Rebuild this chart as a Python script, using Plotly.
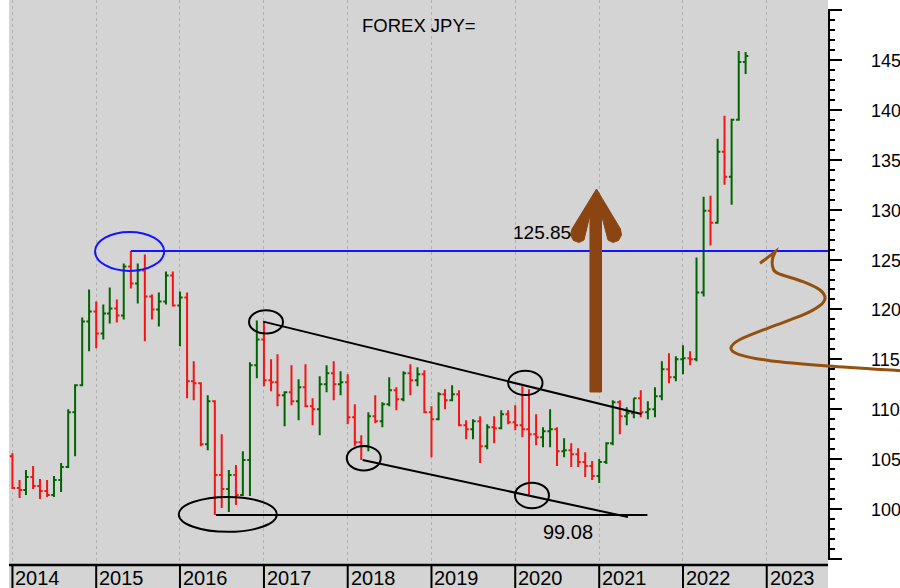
import pandas as pd
import plotly.graph_objects as go

# ---------------- data (monthly OHLC, Jan 2014 - Oct 2022) ----------------
months = pd.date_range("2014-01-01", periods=106, freq="MS")

opens = [
    105.3, 102.1, 101.9, 103.2, 102.3, 101.8, 101.4, 102.9, 104.2, 109.7, 112.4, 118.8,
    119.8, 117.6, 119.6, 120.1, 119.4, 124.3, 122.6, 123.9, 121.3, 120.0, 120.8, 123.4,
    120.4, 121.2, 112.8, 112.6, 106.5, 110.8, 103.4, 102.0, 103.4, 101.4, 104.9, 114.4,
    117.0, 112.9, 112.7, 111.4, 111.7, 110.8, 112.2, 110.3, 110.0, 112.5, 113.6, 112.5,
    112.7, 109.2, 106.7, 106.3, 109.3, 108.8, 110.5, 111.9, 111.0, 113.6, 112.9, 113.5,
    109.7, 109.0, 111.5, 110.9, 111.5, 108.4, 108.0, 108.8, 106.3, 108.2, 108.1, 109.5,
    108.7, 108.4, 108.0, 107.5, 107.2, 107.8, 108.0, 105.8, 105.9, 105.5, 104.7, 104.3,
    103.3, 104.7, 106.6, 110.7, 109.3, 109.6, 111.1, 109.7, 110.0, 111.3, 114.0, 113.2,
    115.0, 115.1, 115.0, 121.7, 129.9, 128.7, 135.8, 133.3, 139.0, 144.8]
highs = [
    105.6, 102.9, 103.9, 104.3, 103.0, 102.9, 103.3, 104.6, 110.0, 112.5, 119.2, 122.0,
    120.8, 120.5, 122.2, 121.0, 124.6, 125.85, 124.6, 125.5, 121.5, 121.7, 123.8, 123.8,
    121.8, 121.7, 114.8, 112.7, 111.4, 110.9, 107.5, 103.9, 104.4, 105.8, 114.7, 118.9,
    118.8, 115.0, 115.5, 111.8, 114.4, 113.0, 114.5, 111.1, 113.3, 114.4, 114.8, 113.8,
    113.5, 110.5, 107.4, 109.7, 111.4, 110.7, 113.2, 112.2, 113.8, 114.5, 114.2, 113.9,
    110.3, 111.7, 112.0, 112.4, 111.9, 108.9, 109.0, 109.3, 108.5, 109.3, 109.9, 109.9,
    110.4, 112.3, 112.0, 109.5, 108.2, 110.0, 108.2, 107.1, 106.6, 106.1, 105.7, 104.8,
    105.0, 106.7, 110.9, 110.9, 110.2, 111.1, 111.9, 110.8, 112.2, 114.8, 115.6, 115.3,
    116.4, 115.8, 125.2, 131.3, 131.4, 137.1, 139.4, 139.1, 145.9, 145.8]
lows = [
    102.0, 101.1, 101.4, 102.0, 101.0, 101.2, 101.2, 101.7, 104.1, 105.3, 112.3, 115.8,
    116.1, 117.0, 118.6, 118.7, 119.0, 122.1, 120.6, 116.8, 119.0, 118.3, 120.5, 120.3,
    116.3, 111.1, 110.9, 106.3, 105.9, 99.4, 100.1, 99.7, 100.4, 101.3, 101.3, 113.1,
    112.3, 111.8, 110.3, 108.3, 110.4, 108.9, 110.2, 108.4, 107.4, 111.7, 110.9, 111.4,
    108.5, 106.3, 104.9, 105.8, 108.6, 108.2, 110.3, 109.9, 110.8, 111.4, 112.3, 109.6,
    105.2, 108.9, 110.0, 110.8, 108.3, 107.0, 107.0, 104.6, 106.0, 106.6, 108.0, 108.5,
    107.9, 107.2, 101.4, 106.4, 106.2, 106.2, 104.3, 105.2, 104.2, 104.2, 103.2, 102.9,
    102.6, 104.5, 106.4, 107.5, 108.4, 109.1, 109.2, 109.0, 109.2, 110.9, 112.6, 112.8,
    113.5, 114.4, 114.8, 121.3, 126.4, 128.6, 132.5, 130.5, 138.9, 143.6]
closes = [
    102.1, 101.9, 103.2, 102.3, 101.8, 101.4, 102.9, 104.2, 109.7, 112.4, 118.8, 119.8,
    117.6, 119.6, 120.1, 119.4, 124.3, 122.6, 123.9, 121.3, 120.0, 120.8, 123.4, 120.4,
    121.2, 112.8, 112.6, 106.5, 110.8, 103.4, 102.0, 103.4, 101.4, 104.9, 114.4, 117.0,
    112.9, 112.7, 111.4, 111.7, 110.8, 112.2, 110.3, 110.0, 112.5, 113.6, 112.5, 112.7,
    109.2, 106.7, 106.3, 109.3, 108.8, 110.5, 111.9, 111.0, 113.6, 112.9, 113.5, 109.7,
    109.0, 111.5, 110.9, 111.5, 108.4, 108.0, 108.8, 106.3, 108.2, 108.1, 109.5, 108.7,
    108.4, 108.0, 107.5, 107.2, 107.8, 108.0, 105.8, 105.9, 105.5, 104.7, 104.3, 103.3,
    104.7, 106.6, 110.7, 109.3, 109.6, 111.1, 109.7, 110.0, 111.3, 114.0, 113.2, 115.0,
    115.1, 115.0, 121.7, 129.9, 128.7, 135.8, 133.3, 139.0, 144.8, 145.4]

years = list(range(2014, 2024))
y_major = list(range(95, 151, 5))
y_labels = ["" if v in (95, 150) else str(v) for v in y_major]
y_minor = [v for v in range(95, 151) if v % 5]

resistance = 125.85
support = 99.08

# ---------------- layout geometry (pixels) ----------------
W, H = 900, 588
PL, PR, PT, PB = 9, 828, 0, 563


def px(x):
    return (x - PL) / (PR - PL)


def py(y):
    return (PB - y) / (PB - PT)


FONT = "Liberation Sans, Arial, sans-serif"
GREEN = "#006400"
RED = "#f41414"
BROWN = "#8B4513"

fig = go.Figure(go.Ohlc(
    x=months, open=opens, high=highs, low=lows, close=closes,
    increasing=dict(line=dict(color=GREEN, width=2)),
    decreasing=dict(line=dict(color=RED, width=2)),
    tickwidth=0.42, hoverinfo="skip", showlegend=False,
))

shapes = []

# label strip below plot
shapes.append(dict(type="rect", xref="paper", yref="paper", x0=0, x1=1,
                   y0=py(H), y1=0, fillcolor="#d4d4d4", line=dict(width=0), layer="below"))
shapes.append(dict(type="line", xref="paper", yref="paper", x0=0, x1=1,
                   y0=py(565), y1=py(565), line=dict(color="black", width=2.5)))
for yr in years:
    shapes.append(dict(type="line", xref="x", yref="paper", x0=f"{yr}-01-01", x1=f"{yr}-01-01",
                       y0=py(565), y1=py(H), line=dict(color="black", width=2)))
# right axis line
shapes.append(dict(type="line", xref="paper", yref="paper", x0=px(829), x1=px(829),
                   y0=py(560), y1=py(9), line=dict(color="black", width=2)))

# resistance line and circle
shapes.append(dict(type="line", xref="x", yref="y", x0="2015-06-01", x1="2023-09-25",
                   y0=resistance, y1=resistance, line=dict(color="#1414ff", width=2)))
shapes.append(dict(type="circle", xref="x", yref="y", x0="2014-12-27", x1="2015-10-24",
                   y0=123.86, y1=127.76, line=dict(color="#1414ff", width=2)))

# support line and circle
shapes.append(dict(type="line", xref="x", yref="y", x0="2016-06-06", x1="2021-07-30",
                   y0=99.41, y1=99.41, line=dict(color="black", width=2)))
shapes.append(dict(type="circle", xref="x", yref="y", x0="2015-12-27", x1="2017-02-26",
                   y0=97.71, y1=101.21, line=dict(color="black", width=2)))

# falling channel
shapes.append(dict(type="line", xref="x", yref="y", x0="2016-12-29", x1="2021-07-04",
                   y0=118.78, y1=109.53, line=dict(color="black", width=2)))
shapes.append(dict(type="line", xref="x", yref="y", x0="2018-03-07", x1="2021-05-06",
                   y0=104.92, y1=99.21, line=dict(color="black", width=2)))
for (a, b, c, d) in [("2016-10-28", "2017-03-25", 117.58, 119.92),
                     ("2019-12-01", "2020-04-29", 111.42, 113.86),
                     ("2017-12-28", "2018-05-25", 103.86, 106.32),
                     ("2019-12-31", "2020-05-27", 100.08, 102.64)]:
    shapes.append(dict(type="circle", xref="x", yref="y", x0=a, x1=b, y0=c, y1=d,
                       line=dict(color="black", width=2)))

# brown up arrow (filled outline)
arrow_pts = [(596.5, 189), (572, 229), (570.5, 235), (573.5, 240.5), (579, 242.5), (584, 240),
             (590, 215), (590, 392), (601.5, 392), (601.5, 215), (608, 240), (613, 242.5),
             (618.5, 240.5), (621.5, 235), (620.5, 229)]
arrow_path = "M " + " L ".join(f"{px(x):.5f},{py(y):.5f}" for x, y in arrow_pts) + " Z"
shapes.append(dict(type="path", xref="paper", yref="paper", path=arrow_path,
                   fillcolor=BROWN, line=dict(color=BROWN, width=1)))

# brown hand-drawn curve (Catmull-Rom spline)
curve_pts = [(775.5, 251.5), (772.5, 259), (773, 268), (778, 273.3), (803, 281.7), (820, 290),
             (825, 298.3), (820, 305.5), (803, 315), (770, 327.3), (740, 339.5), (731, 348),
             (738.5, 354.3), (770, 360.7), (828, 366), (900, 370.7)]
segs = [f"M {px(760):.5f},{py(263.3):.5f}", f"L {px(775.5):.5f},{py(251.5):.5f}"]
n = len(curve_pts)
for i in range(n - 1):
    p0 = curve_pts[i - 1] if i > 0 else curve_pts[i]
    p1 = curve_pts[i]
    p2 = curve_pts[i + 1]
    p3 = curve_pts[i + 2] if i + 2 < n else curve_pts[i + 1]
    c1 = (p1[0] + (p2[0] - p0[0]) / 6, p1[1] + (p2[1] - p0[1]) / 6)
    c2 = (p2[0] - (p3[0] - p1[0]) / 6, p2[1] - (p3[1] - p1[1]) / 6)
    segs.append(f"C {px(c1[0]):.5f},{py(c1[1]):.5f} {px(c2[0]):.5f},{py(c2[1]):.5f} "
                f"{px(p2[0]):.5f},{py(p2[1]):.5f}")
shapes.append(dict(type="path", xref="paper", yref="paper", path=" ".join(segs),
                   line=dict(color="#94500f", width=3)))

annotations = [
    dict(text="FOREX JPY=", xref="paper", yref="paper", x=px(419), y=py(25),
         xanchor="center", yanchor="middle",
         showarrow=False, font=dict(family=FONT, size=18.5, color="black")),
    dict(text=f"{resistance:.2f}", xref="paper", yref="paper", x=px(542), y=py(233),
         xanchor="center", yanchor="middle",
         showarrow=False, font=dict(family=FONT, size=19, color="black")),
    dict(text=f"{support:.2f}", xref="paper", yref="paper", x=px(568), y=py(532),
         xanchor="center", yanchor="middle",
         showarrow=False, font=dict(family=FONT, size=20, color="black")),
]
for yr in years:
    annotations.append(dict(text=str(yr), xref="x", yref="paper", x=f"{yr}-01-01",
                            y=py(577.5), xanchor="left", yanchor="middle", xshift=1,
                            showarrow=False, font=dict(family=FONT, size=20, color="black")))
# right-hand price labels
for v, t in zip(y_major, y_labels):
    if t:
        annotations.append(dict(text=t, xref="paper", yref="y", x=px(869), y=v,
                                xanchor="left", yanchor="middle", yshift=-1,
                                showarrow=False, font=dict(family=FONT, size=18, color="black")))

fig.update_layout(
    width=W, height=H,
    margin=dict(l=PL, r=W - PR, t=PT, b=H - PB),
    paper_bgcolor="white", plot_bgcolor="#d4d4d4",
    font=dict(family=FONT, color="black"),
    shapes=shapes, annotations=annotations,
    xaxis=dict(type="date", range=["2013-12-17", "2023-09-25"], rangeslider=dict(visible=False),
               showticklabels=False, ticks="", showgrid=True, tick0="2014-01-01", dtick="M12",
               gridcolor="#b0b0b0", griddash="dot", gridwidth=1, zeroline=False, showline=False),
    yaxis=dict(side="right", range=[94.59, 151.01], tickmode="array", tickvals=y_major,
               showticklabels=False, ticks="outside", ticklen=13, tickwidth=2, tickcolor="black",
               minor=dict(tickmode="array", tickvals=y_minor, ticks="outside", ticklen=6,
                          tickwidth=2, tickcolor="black", showgrid=False),
               showgrid=False, zeroline=False, showline=False),
)

fig.write_html("out.html", config={"displayModeBar": False, "staticPlot": True},
               post_script="document.body.style.margin='0px';document.body.style.padding='0px';")
